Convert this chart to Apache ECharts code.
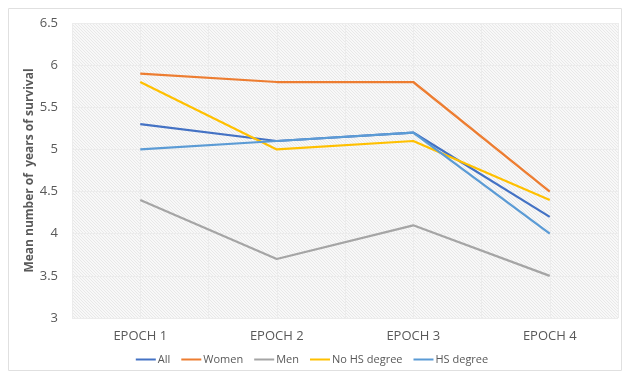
<!DOCTYPE html>
<html>
<head>
<meta charset="utf-8">
<script src="https://cdn.jsdelivr.net/npm/echarts@6/dist/echarts.min.js"></script>
<style>
  html, body { margin: 0; padding: 0; background: #fff; }
  #container { width: 624px; height: 373px; }
</style>
</head>
<body>
<div id="container"></div>
<script>
var epochs = ['EPOCH 1', 'EPOCH 2', 'EPOCH 3', 'EPOCH 4'];
var seriesNames = ['All', 'Women', 'Men', 'No HS degree', 'HS degree'];
var allValues = [5.3, 5.1, 5.2, 4.2];
var womenValues = [5.9, 5.8, 5.8, 4.5];
var menValues = [4.4, 3.7, 4.1, 3.5];
var noHsValues = [5.8, 5.0, 5.1, 4.4];
var hsValues = [5.0, 5.1, 5.2, 4.0];
var colors = ['#4472C4', '#ED7D31', '#A5A5A5', '#FFC000', '#5B9BD5'];

// diagonal hatch fill for the plot area
var tile = document.createElement('canvas');
tile.width = 3;
tile.height = 3;
var ctx = tile.getContext('2d');
ctx.fillStyle = '#f8f8f8';
ctx.fillRect(0, 0, 3, 3);
ctx.fillStyle = '#e8e8e8';
ctx.fillRect(0, 0, 1, 1);
ctx.fillRect(1, 1, 1, 1);
ctx.fillRect(2, 2, 1, 1);

var dom = document.getElementById('container');
var myChart = echarts.init(dom, null, { renderer: 'canvas' });

var font = '"Open Sans", sans-serif';
var values = [allValues, womenValues, menValues, noHsValues, hsValues];
var gridColor = '#ececec';

var option = {
  animation: false,
  textStyle: { fontFamily: font },
  color: colors,
  graphic: [{
    type: 'rect',
    shape: { x: 8.5, y: 8.5, width: 613, height: 362 },
    style: { fill: 'none', stroke: '#e0e0e0', lineWidth: 1 }
  }],
  grid: {
    left: 72, right: 6, top: 23, bottom: 55,
    show: true,
    borderWidth: 0,
    backgroundColor: { image: tile, repeat: 'repeat' }
  },
  legend: {
    bottom: 3,
    left: 'center',
    itemWidth: 20,
    itemHeight: 2,
    itemGap: 11,
    icon: 'rect',
    textStyle: { color: '#595959', fontSize: 11, fontFamily: font, padding: [0, 0, 0, -3] },
    data: seriesNames
  },
  xAxis: [{
    type: 'category',
    data: epochs,
    boundaryGap: true,
    axisLine: { show: false },
    axisTick: { show: false },
    axisLabel: { color: '#595959', fontSize: 13, margin: 12 },
    splitLine: { show: false }
  }, {
    type: 'category',
    data: ['', '', '', '', '', '', '', ''],
    boundaryGap: true,
    position: 'bottom',
    axisLine: { show: false },
    axisTick: { show: false },
    axisLabel: { show: false },
    splitLine: { show: true, interval: 0, lineStyle: { color: gridColor, width: 1 } }
  }],
  yAxis: {
    type: 'value',
    min: 3,
    max: 6.5,
    interval: 0.5,
    name: 'Mean number of  years of survival',
    nameLocation: 'middle',
    nameGap: 36,
    nameMoveOverlap: false,
    nameTextStyle: { color: '#595959', fontSize: 12, fontWeight: 'bold', fontFamily: font },
    axisLine: { show: false },
    axisTick: { show: false },
    axisLabel: { color: '#595959', fontSize: 13, margin: 14 },
    splitLine: { show: true, lineStyle: { color: gridColor, width: 1 } }
  },
  series: seriesNames.map(function (name, i) {
    return {
      name: name,
      type: 'line',
      data: values[i],
      symbol: 'none',
      lineStyle: { width: 2.25, color: colors[i] },
      itemStyle: { color: colors[i] }
    };
  })
};

myChart.setOption(option);
window.addEventListener('resize', myChart.resize);
</script>
</body>
</html>
